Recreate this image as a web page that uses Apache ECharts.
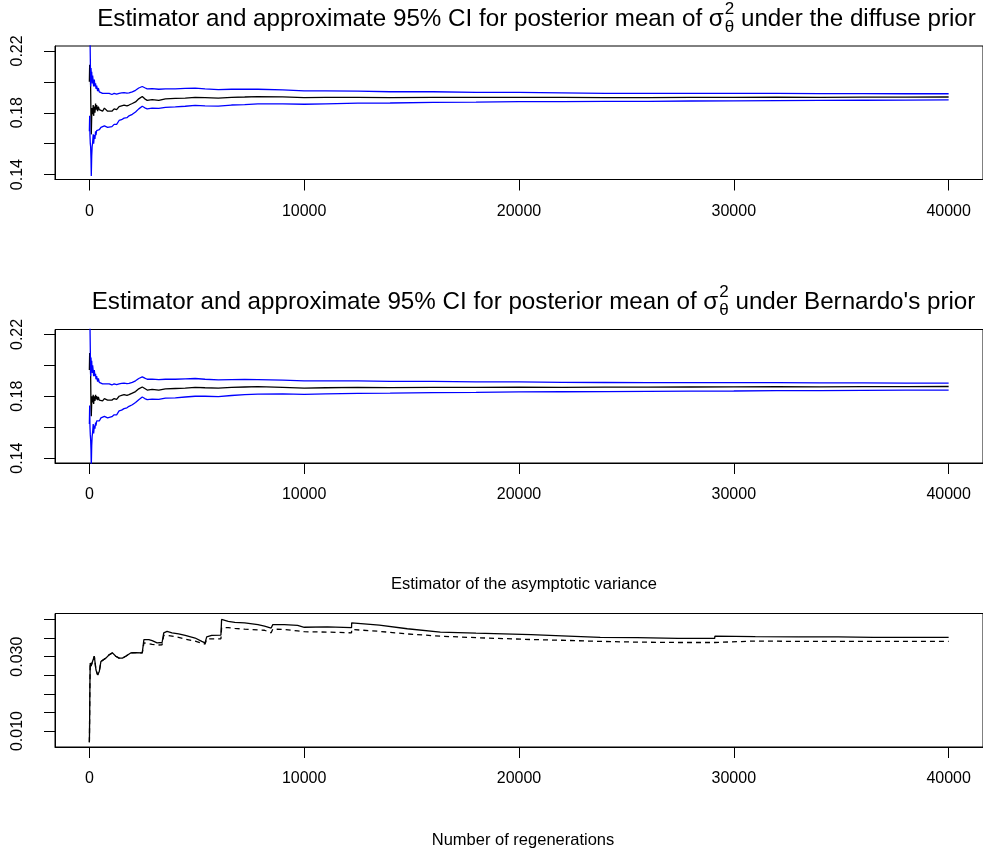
<!DOCTYPE html>
<html><head><meta charset="utf-8">
<script src="https://cdn.jsdelivr.net/npm/echarts@6/dist/echarts.min.js"></script>
<style>html,body{margin:0;padding:0;background:#fff}#c{width:983px;height:855px}</style>
</head><body><div id="c"></div><script>
// ---------- data ----------
const xTicks = [0, 10000, 20000, 30000, 40000];
const ciTicks = [0.14, 0.16, 0.18, 0.20, 0.22];
const ciLabels = [0.14, 0.18, 0.22];
const varTicks = [0.010, 0.015, 0.020, 0.025, 0.030, 0.035, 0.040];
const varLabels = [0.010, 0.030];

const ciX = [1,15,30,45,60,77,90,110,130,154,180,200,231,260,290,308,340,385,420,462,540,616,700,770,850,924,1050,1154,1270,1385,1500,1616,1750,1847,2000,2150,2300,2463,2580,2693,2924,3232,3540,4001,4463,4925,5386,6002,6617,7232,7848,9000,10000,11000,12500,14000,16000,18000,20000,22000,24000,26000,28000,30000,32000,34000,36000,38000,40000];

const diffuseEst = [0.200,0.211,0.205,0.208,0.196,0.176,0.166,0.178,0.183,0.179,
0.185,0.178,0.184,0.180,0.186,0.182,0.185,0.181,0.184,0.182,
0.183,0.181,0.183,0.182,0.181,0.182,0.181,0.1825,0.182,0.184,
0.1845,0.185,0.1845,0.185,0.186,0.187,0.189,0.1905,0.189,0.188,
0.1885,0.188,0.189,0.1893,0.1895,0.190,0.1898,0.1895,0.190,0.1902,
0.1905,0.1903,0.1898,0.1899,0.190,0.1898,0.190,0.1899,0.190,0.1899,
0.1898,0.1898,0.1899,0.190,0.1901,0.190,0.1901,0.1901,0.1902];
const diffuseUpper = [0.30,0.26,0.23,0.215,0.197,0.209,0.205,0.2065,0.199,0.204,
0.200,0.197,0.2015,0.197,0.199,0.1955,0.1975,0.194,0.196,0.1935,
0.1945,0.1925,0.1935,0.1925,0.192,0.1925,0.1918,0.1925,0.192,0.1925,
0.1928,0.193,0.1927,0.1928,0.1935,0.1945,0.196,0.197,0.1962,0.1955,
0.1956,0.1952,0.1955,0.1955,0.1958,0.196,0.1955,0.195,0.1952,0.1953,
0.1952,0.1948,0.1942,0.1942,0.194,0.1936,0.1936,0.1932,0.1932,0.1929,
0.1926,0.1925,0.1925,0.1925,0.1925,0.1924,0.1924,0.1923,0.1923];
const diffuseLower = [0.168,0.178,0.165,0.160,0.158,0.150,0.139,0.152,0.158,0.161,
0.166,0.160,0.1655,0.163,0.168,0.1655,0.1685,0.1675,0.1695,0.169,
0.1705,0.1695,0.1715,0.171,0.1705,0.171,0.171,0.1725,0.1725,0.175,
0.1755,0.1765,0.1768,0.178,0.179,0.1805,0.1825,0.1842,0.1832,0.1825,
0.183,0.1828,0.1835,0.1838,0.1842,0.1848,0.1845,0.1843,0.185,0.1853,
0.1858,0.1858,0.1855,0.1858,0.1862,0.1863,0.1867,0.1869,0.1872,0.1872,
0.1873,0.1874,0.1876,0.1877,0.1879,0.188,0.1881,0.1882,0.1883];

const bernardoEst = [0.197,0.208,0.203,0.205,0.194,0.172,0.167,0.176,0.180,0.176,
0.181,0.175,0.180,0.177,0.181,0.178,0.180,0.1775,0.1795,0.1775,
0.1785,0.177,0.1785,0.178,0.1775,0.178,0.1775,0.1785,0.178,0.180,
0.1805,0.181,0.1805,0.181,0.182,0.183,0.1848,0.186,0.185,0.184,
0.1845,0.184,0.1848,0.185,0.1852,0.1858,0.1855,0.1852,0.1858,0.186,
0.1862,0.1858,0.1853,0.1855,0.1857,0.1856,0.1858,0.1857,0.1859,0.1858,
0.1859,0.1859,0.186,0.1861,0.1862,0.1861,0.1862,0.1862,0.1863];
const bernardoUpper = [0.30,0.25,0.225,0.21,0.193,0.205,0.200,0.203,0.195,0.200,
0.1965,0.193,0.197,0.193,0.1945,0.191,0.193,0.1895,0.1915,0.189,
0.190,0.188,0.189,0.188,0.1875,0.188,0.1873,0.188,0.1875,0.188,
0.1883,0.1885,0.1882,0.1883,0.189,0.190,0.1915,0.1925,0.1917,0.191,
0.1911,0.1907,0.191,0.191,0.1913,0.1915,0.191,0.1906,0.1908,0.1909,
0.1908,0.1905,0.1899,0.19,0.19,0.1896,0.1896,0.1893,0.1893,0.189,
0.1889,0.1888,0.1888,0.1888,0.1888,0.1886,0.1886,0.1885,0.1885];
const bernardoLower = [0.162,0.174,0.160,0.155,0.152,0.145,0.134,0.148,0.154,0.157,
0.162,0.156,0.161,0.159,0.163,0.161,0.164,0.163,0.165,0.164,
0.166,0.165,0.167,0.1665,0.166,0.1665,0.1668,0.168,0.168,0.1705,
0.171,0.172,0.1725,0.1735,0.1745,0.176,0.1778,0.1795,0.1785,0.1778,
0.1782,0.178,0.1788,0.179,0.1795,0.180,0.180,0.1798,0.1805,0.181,
0.1814,0.1815,0.1812,0.1815,0.1819,0.182,0.1823,0.1825,0.1828,0.1829,
0.183,0.1831,0.1833,0.1834,0.1836,0.1837,0.1838,0.1839,0.184];

const varX = [1,8,15,25,40,77,154,231,308,385,
462,539,616,770,924,1077,1231,1385,1539,1693,
1924,2155,2463,2535,2540,2770,2924,3155,3386,3460,
3463,3617,3848,4155,4463,4925,5232,5386,5460,5463,
5694,6125,6150,6156,6463,6771,7232,7848,8155,8463,
8535,8540,9079,9694,10003,10075,10080,11080,12205,12212,
13500,14800,16339,18000,20563,22000,23781,25500,27405,29110,
29118,31000,33000,34852,36500,38000,40000];
const varSolid = [0.0070,0.0100,0.0143,0.0220,0.0283,0.0275,0.0278,0.0301,0.0264,0.0251,
0.0260,0.0287,0.0292,0.0296,0.0305,0.0310,0.0301,0.0296,0.0296,0.0301,
0.0310,0.0311,0.0310,0.0309,0.0346,0.0346,0.0343,0.0337,0.0338,0.0337,
0.0364,0.0368,0.0364,0.0361,0.0357,0.0350,0.0341,0.0337,0.0338,0.0353,
0.0357,0.0358,0.0358,0.0400,0.0395,0.0392,0.0391,0.0386,0.0382,0.0377,
0.0377,0.0386,0.0386,0.0384,0.0379,0.0379,0.0384,0.0380,0.0378,0.0391,
0.0385,0.0375,0.0366,0.0363,0.0359,0.0356,0.0352,0.0351,0.0349,0.0349,
0.0355,0.0354,0.0353,0.0353,0.0352,0.0352,0.0352];
const varDashed = [0.0070,0.0100,0.0143,0.0220,0.0283,0.0275,0.0278,0.0301,0.0264,0.0251,
0.0260,0.0287,0.0292,0.0296,0.0305,0.0310,0.0301,0.0296,0.0296,0.0301,
0.0310,0.0311,0.0310,0.0309,0.0337,0.0335,0.0333,0.0331,0.0332,0.0331,
0.0357,0.0357,0.0355,0.0352,0.0347,0.0342,0.0336,0.0334,0.0334,0.0347,
0.0348,0.0348,0.0348,0.0378,0.0378,0.0376,0.0374,0.0372,0.0371,0.0364,
0.0364,0.0374,0.0373,0.0369,0.0367,0.0367,0.0369,0.0366,0.0364,0.0373,
0.0368,0.0361,0.0355,0.0351,0.0346,0.0344,0.0341,0.0339,0.0338,0.0338,
0.0343,0.0342,0.0341,0.0341,0.0341,0.0341,0.0341];

// ---------- chart ----------
const FONT = '"Liberation Sans", Arial, Helvetica, sans-serif';
const chart = echarts.init(document.getElementById('c'), null, {renderer: 'canvas'});

const zip = (xs, ys) => xs.map((x, i) => [x, ys[i]]);

const grids = [
  {left: 55, top: 46, width: 936, height: 133.5},
  {left: 55, top: 329.5, width: 936, height: 133.5},
  {left: 55, top: 613.5, width: 936, height: 133.5}
].map(g => Object.assign({show: true, borderColor: '#000', borderWidth: 1, backgroundColor: 'transparent'}, g));

function xAxis(i) {
  return {
    gridIndex: i, type: 'value', min: -1599, max: 41600,
    axisLine: {show: true, onZero: false, lineStyle: {color: '#000', width: 1}},
    splitLine: {show: false},
    axisTick: {show: true, length: 11, lineStyle: {color: '#000', width: 1}, customValues: xTicks},
    axisLabel: {customValues: xTicks, fontSize: 16, color: '#000', margin: 24, fontFamily: FONT,
      formatter: v => String(v)}
  };
}
function yAxis(i, min, max, ticks, labels, dec) {
  return {
    gridIndex: i, type: 'value', min: min, max: max,
    axisLine: {show: true, onZero: false, lineStyle: {color: '#000', width: 1}},
    splitLine: {show: false},
    axisTick: {show: true, length: 11, lineStyle: {color: '#000', width: 1}, customValues: ticks},
    axisLabel: {customValues: labels, rotate: 90, fontSize: 16, color: '#000', margin: 29, fontFamily: FONT,
      formatter: v => Number(v).toFixed(dec)}
  };
}

function line(i, xs, ys, color, dashed) {
  return {
    type: 'line', xAxisIndex: i, yAxisIndex: i, data: zip(xs, ys),
    showSymbol: false, symbol: 'none', clip: true, animation: false,
    lineStyle: {color: color, width: 1.3, type: dashed ? [5, 4] : 'solid'}
  };
}

// title builder: text with stacked super/subscript
const measureCtx = document.createElement('canvas').getContext('2d');
function textWidth(t, size) {
  measureCtx.font = size + 'px ' + FONT;
  return measureCtx.measureText(t).width;
}
function titleGraphic(before, sup, sub, after, cx, cy, size) {
  const small = Math.round(size * 0.72);
  const wB = textWidth(before, size);
  const wS = sup ? Math.max(textWidth(sup, small), textWidth(sub, small)) : 0;
  const wA = after ? textWidth(after, size) : 0;
  const total = wB + wS + wA;
  let x = cx - total / 2;
  const els = [];
  const base = {fill: '#000', fontSize: size, fontFamily: FONT, textVerticalAlign: 'middle', textAlign: 'left'};
  els.push({type: 'text', x: x, y: cy, style: Object.assign({}, base, {text: before})});
  if (sup) {
    els.push({type: 'text', x: x + wB + 1, y: cy - size * 0.38, style: Object.assign({}, base, {text: sup, fontSize: small})});
    els.push({type: 'text', x: x + wB + 1, y: cy + size * 0.36, style: Object.assign({}, base, {text: sub, fontSize: small})});
  }
  if (after) {
    els.push({type: 'text', x: x + wB + wS + 1, y: cy, style: Object.assign({}, base, {text: after})});
  }
  return els;
}

const graphics = [].concat(
  titleGraphic('Estimator and approximate 95% CI for posterior mean of \u03c3', '2', '\u03b8', ' under the diffuse prior', 536, 19, 24.2),
  titleGraphic('Estimator and approximate 95% CI for posterior mean of \u03c3', '2', '\u03b8', " under Bernardo's prior", 533, 302, 24.2),
  titleGraphic('Estimator of the asymptotic variance', null, null, null, 524, 584, 16.5),
  [{type: 'text', x: 523, y: 840, style: {text: 'Number of regenerations', fill: '#000', fontSize: 16.5, fontFamily: FONT, textAlign: 'center', textVerticalAlign: 'middle'}}]
);

chart.setOption({
  animation: false,
  backgroundColor: '#fff',
  grid: grids,
  xAxis: [xAxis(0), xAxis(1), xAxis(2)],
  yAxis: [
    yAxis(0, 0.1368, 0.2232, ciTicks, ciLabels, 2),
    yAxis(1, 0.1368, 0.2232, ciTicks, ciLabels, 2),
    yAxis(2, 0.0057, 0.0416, varTicks, varLabels, 3)
  ],
  series: [
    line(0, ciX, diffuseEst, '#000000'),
    line(0, ciX, diffuseUpper, '#0000ff'),
    line(0, ciX, diffuseLower, '#0000ff'),
    line(1, ciX, bernardoEst, '#000000'),
    line(1, ciX, bernardoUpper, '#0000ff'),
    line(1, ciX, bernardoLower, '#0000ff'),
    line(2, varX, varSolid, '#000000'),
    line(2, varX, varDashed, '#000000', true)
  ],
  graphic: graphics
});
</script></body></html>
